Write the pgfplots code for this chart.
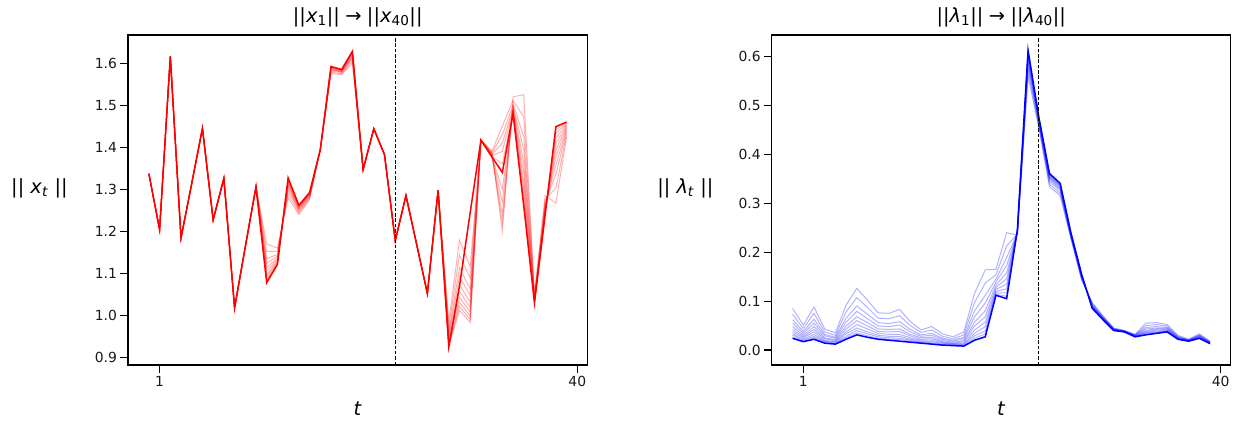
\documentclass[border=0pt]{standalone}
\usepackage{pgfplots}
\pgfplotsset{compat=1.18}
\usepackage{pgfplotstable}
\usepackage{fontspec}
\setmainfont{DejaVu Sans}

\pgfplotstableread{
t D s1 s2 s3 s4 s5 s6 s7 s8 s9 s10
0 1.337 1.337 1.337 1.337 1.337 1.337 1.337 1.337 1.337 1.337 1.337
1 1.204 1.204 1.204 1.204 1.204 1.204 1.204 1.204 1.204 1.204 1.204
2 1.616 1.616 1.616 1.616 1.616 1.616 1.616 1.616 1.616 1.616 1.616
3 1.184 1.184 1.184 1.184 1.184 1.184 1.184 1.184 1.184 1.184 1.184
4 1.314 1.314 1.314 1.314 1.314 1.314 1.314 1.314 1.314 1.314 1.314
5 1.445 1.445 1.445 1.445 1.445 1.445 1.445 1.445 1.445 1.445 1.445
6 1.227 1.227 1.227 1.227 1.227 1.227 1.227 1.227 1.227 1.227 1.227
7 1.326 1.326 1.326 1.326 1.326 1.326 1.326 1.326 1.326 1.326 1.326
8 1.018 1.018 1.018 1.018 1.018 1.018 1.018 1.018 1.018 1.018 1.018
9 1.163 1.163 1.163 1.163 1.163 1.163 1.163 1.163 1.163 1.163 1.163
10 1.306 1.306 1.306 1.306 1.306 1.306 1.306 1.306 1.306 1.306 1.306
11 1.078 1.082 1.086 1.092 1.098 1.106 1.114 1.124 1.135 1.152 1.170
12 1.121 1.123 1.125 1.127 1.130 1.133 1.136 1.141 1.145 1.152 1.160
13 1.327 1.325 1.323 1.320 1.317 1.313 1.309 1.304 1.298 1.289 1.280
14 1.262 1.261 1.260 1.259 1.257 1.255 1.253 1.251 1.248 1.244 1.240
15 1.292 1.291 1.290 1.289 1.288 1.287 1.285 1.284 1.281 1.278 1.275
16 1.394 1.394 1.394 1.394 1.394 1.394 1.394 1.394 1.394 1.394 1.394
17 1.592 1.591 1.590 1.589 1.588 1.587 1.585 1.584 1.581 1.578 1.575
18 1.585 1.585 1.584 1.583 1.582 1.581 1.580 1.579 1.578 1.575 1.573
19 1.628 1.627 1.625 1.624 1.622 1.620 1.617 1.614 1.611 1.606 1.600
20 1.347 1.347 1.347 1.347 1.347 1.347 1.347 1.347 1.347 1.347 1.347
21 1.444 1.444 1.444 1.444 1.444 1.444 1.444 1.444 1.444 1.444 1.444
22 1.382 1.382 1.382 1.382 1.382 1.382 1.382 1.382 1.382 1.382 1.382
23 1.178 1.178 1.178 1.178 1.178 1.178 1.178 1.178 1.178 1.178 1.178
24 1.285 1.285 1.285 1.285 1.285 1.285 1.285 1.285 1.285 1.285 1.285
25 1.169 1.169 1.169 1.169 1.169 1.169 1.169 1.169 1.169 1.169 1.169
26 1.052 1.052 1.052 1.052 1.052 1.052 1.052 1.052 1.052 1.052 1.052
27 1.298 1.298 1.298 1.298 1.298 1.298 1.298 1.298 1.298 1.298 1.298
28 0.925 0.927 0.930 0.934 0.938 0.943 0.948 0.955 0.962 0.973 0.985
29 1.070 1.012 1.021 1.031 1.043 1.057 1.073 1.092 1.113 1.144 1.179
30 1.245 0.983 0.990 0.998 1.008 1.019 1.031 1.047 1.063 1.088 1.116
31 1.417 1.417 1.417 1.417 1.417 1.417 1.417 1.417 1.417 1.417 1.417
32 1.378 1.379 1.379 1.380 1.381 1.382 1.383 1.385 1.387 1.389 1.392
33 1.340 1.360 1.300 1.390 1.270 1.410 1.240 1.430 1.220 1.450 1.200
34 1.480 1.482 1.484 1.486 1.489 1.492 1.496 1.500 1.505 1.512 1.520
35 1.260 1.271 1.284 1.300 1.318 1.340 1.363 1.393 1.424 1.472 1.525
36 1.030 1.031 1.032 1.033 1.034 1.036 1.038 1.040 1.042 1.046 1.050
37 1.240 1.242 1.244 1.247 1.250 1.254 1.258 1.263 1.268 1.276 1.285
38 1.449 1.442 1.433 1.422 1.409 1.394 1.378 1.358 1.336 1.303 1.267
39 1.460 1.459 1.457 1.455 1.452 1.450 1.446 1.443 1.438 1.432 1.425
}\xtab

\pgfplotstableread{
t D s1 s2 s3 s4 s5 s6 s7 s8 s9 s10
0 0.024 0.026 0.030 0.033 0.037 0.042 0.048 0.055 0.062 0.073 0.085
1 0.017 0.018 0.020 0.022 0.025 0.027 0.030 0.034 0.038 0.044 0.051
2 0.022 0.025 0.028 0.032 0.037 0.042 0.048 0.055 0.063 0.075 0.088
3 0.014 0.015 0.017 0.018 0.020 0.023 0.025 0.029 0.032 0.037 0.043
4 0.012 0.013 0.014 0.016 0.017 0.019 0.021 0.024 0.026 0.030 0.035
5 0.022 0.025 0.028 0.033 0.037 0.043 0.049 0.057 0.065 0.078 0.092
6 0.031 0.035 0.040 0.045 0.052 0.060 0.068 0.079 0.090 0.107 0.126
7 0.026 0.029 0.033 0.037 0.043 0.049 0.056 0.064 0.073 0.087 0.102
8 0.022 0.024 0.027 0.030 0.034 0.038 0.043 0.049 0.056 0.065 0.076
9 0.020 0.022 0.025 0.028 0.032 0.037 0.042 0.048 0.054 0.064 0.075
10 0.018 0.021 0.024 0.028 0.032 0.038 0.043 0.051 0.058 0.070 0.083
11 0.016 0.018 0.020 0.022 0.025 0.029 0.032 0.037 0.042 0.050 0.058
12 0.014 0.015 0.016 0.018 0.020 0.022 0.025 0.028 0.031 0.036 0.041
13 0.012 0.013 0.015 0.017 0.020 0.023 0.026 0.030 0.034 0.041 0.048
14 0.010 0.011 0.012 0.014 0.015 0.017 0.019 0.022 0.024 0.028 0.033
15 0.009 0.010 0.011 0.012 0.013 0.014 0.016 0.018 0.020 0.023 0.027
16 0.008 0.009 0.011 0.012 0.014 0.017 0.019 0.023 0.026 0.031 0.037
17 0.020 0.024 0.029 0.034 0.041 0.049 0.057 0.068 0.080 0.097 0.116
18 0.027 0.033 0.039 0.048 0.057 0.068 0.080 0.096 0.112 0.137 0.164
19 0.112 0.114 0.117 0.120 0.124 0.128 0.133 0.139 0.145 0.154 0.165
20 0.105 0.110 0.117 0.125 0.135 0.146 0.158 0.173 0.189 0.213 0.240
21 0.245 0.245 0.244 0.244 0.243 0.242 0.241 0.240 0.239 0.237 0.235
22 0.613 0.611 0.608 0.605 0.601 0.597 0.592 0.587 0.580 0.571 0.560
23 0.477 0.476 0.475 0.474 0.472 0.470 0.468 0.466 0.463 0.459 0.455
24 0.361 0.360 0.359 0.357 0.355 0.353 0.351 0.348 0.344 0.339 0.334
25 0.341 0.340 0.339 0.337 0.336 0.334 0.331 0.329 0.326 0.321 0.316
26 0.240 0.240 0.239 0.238 0.237 0.236 0.235 0.234 0.233 0.230 0.228
27 0.155 0.155 0.154 0.153 0.152 0.151 0.150 0.149 0.148 0.145 0.143
28 0.085 0.085 0.086 0.087 0.088 0.089 0.090 0.091 0.092 0.095 0.097
29 0.062 0.062 0.063 0.063 0.064 0.064 0.065 0.066 0.067 0.068 0.070
30 0.040 0.040 0.040 0.041 0.041 0.042 0.042 0.043 0.043 0.044 0.045
31 0.037 0.037 0.037 0.037 0.038 0.038 0.038 0.039 0.039 0.039 0.040
32 0.027 0.027 0.027 0.028 0.028 0.029 0.029 0.030 0.030 0.031 0.032
33 0.031 0.032 0.033 0.035 0.036 0.038 0.040 0.043 0.046 0.050 0.055
34 0.034 0.035 0.036 0.037 0.039 0.041 0.043 0.045 0.048 0.052 0.056
35 0.037 0.038 0.038 0.039 0.040 0.042 0.043 0.045 0.046 0.049 0.052
36 0.022 0.022 0.023 0.023 0.024 0.024 0.025 0.026 0.027 0.028 0.030
37 0.018 0.018 0.018 0.019 0.019 0.019 0.020 0.020 0.020 0.021 0.022
38 0.024 0.024 0.025 0.025 0.026 0.027 0.028 0.029 0.030 0.031 0.033
39 0.013 0.013 0.013 0.014 0.014 0.015 0.015 0.016 0.016 0.017 0.018
}\ltab

\pgfplotsset{
  myax/.style={
    scale only axis, height=330pt,
    xmin=-1.95, xmax=40.95, xtick={1,40},
    axis line style={line width=1.1pt, black},
    tick style={line width=1.1pt, black},
    major tick length=7.5pt, tick align=outside,
    xtick pos=lower, ytick pos=left,
    tick label style={font=\fontsize{13.9}{16}\selectfont, text=black!90},
    /pgf/number format/assume math mode=true,
    yticklabel style={/pgf/number format/.cd, fixed, fixed zerofill, precision=1},
    every axis title/.style={at={(axis description cs:0.5,1)}, anchor=base, yshift=12.9pt, font=\fontsize{19.4}{23}\selectfont},
    every axis x label/.style={at={(axis description cs:0.5,-0.1545)}, anchor=base, font=\fontsize{19.4}{23}\selectfont},
    clip=true,
  },
  spread/.style={line width=1pt, opacity=0.3},
  dense/.style={line width=1.5pt},
}

\begin{document}
\begin{tikzpicture}
\path[use as bounding box] (0,0) rectangle (1233pt,421pt);
\begin{axis}[myax, at={(128pt,56pt)}, anchor=south west, width=459.5pt,
  ymin=0.882, ymax=1.667, ytick={0.9,1.0,1.1,1.2,1.3,1.4,1.5,1.6},
  title={||\textit{x}\textsubscript{1}||\kern0.28em→\kern0.28em||\textit{x}\textsubscript{40}||},
  xlabel={\textit{t}},
  ylabel={|| \textit{x}\textsubscript{\textit{t}} ||},
  every axis y label/.style={at={(axis description cs:-0.1928,0.52)}, anchor=base, font=\fontsize{19.4}{23}\selectfont},
]
\pgfplotsinvokeforeach{s1,s2,s3,s4,s5,s6,s7,s8,s9,s10}{
  \addplot[red, spread] table[x=t, y=#1] {\xtab};
}
\addplot[red, dense] table[x=t, y=D] {\xtab};
\addplot[black, line width=0.9pt, dash pattern=on 3.5pt off 1.8pt] coordinates {(23,0.882) (23,1.667)};
\end{axis}

\begin{axis}[myax, at={(771.7pt,56pt)}, anchor=south west, width=459.2pt,
  ymin=-0.0307, ymax=0.6444, ytick={0,0.1,0.2,0.3,0.4,0.5,0.6},
  title={||\textit{λ}\textsubscript{1}||\kern0.28em→\kern0.28em||\textit{λ}\textsubscript{40}||},
  xlabel={\textit{t}},
  ylabel={|| \textit{λ}\textsubscript{\textit{t}} ||},
  every axis y label/.style={at={(axis description cs:-0.188,0.52)}, anchor=base, font=\fontsize{19.4}{23}\selectfont},
]
\pgfplotsinvokeforeach{s1,s2,s3,s4,s5,s6,s7,s8,s9,s10}{
  \addplot[blue, spread] table[x=t, y=#1] {\ltab};
}
\addplot[blue, dense] table[x=t, y=D] {\ltab};
\addplot[black, line width=0.9pt, dash pattern=on 3.5pt off 1.8pt] coordinates {(23,-0.0307) (23,0.6444)};
\end{axis}
\end{tikzpicture}
\end{document}
